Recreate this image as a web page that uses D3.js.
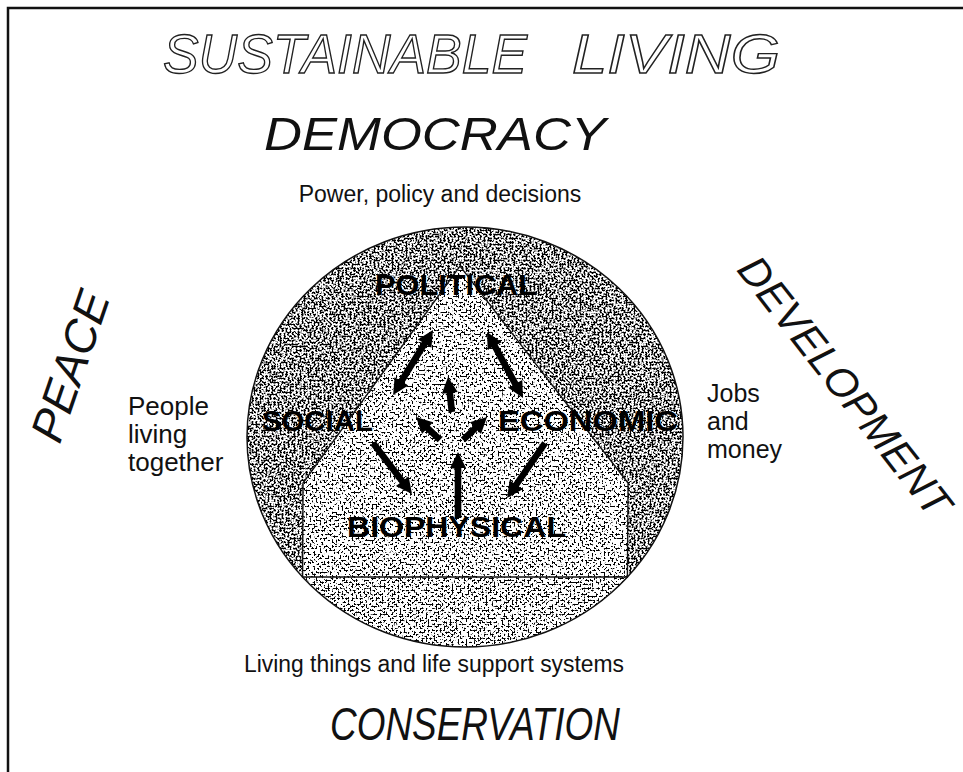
<!DOCTYPE html>
<html>
<head>
<meta charset="utf-8">
<script src="https://cdn.jsdelivr.net/npm/d3@7"></script>
<style>
  body { margin: 0; background: #fff; }
  text { font-family: "Liberation Sans", Arial, sans-serif; fill: #111; }
</style>
</head>
<body>
<script>
// labels of the diagram
var titleWords = ["SUSTAINABLE", "LIVING"];
var goals = ["DEMOCRACY", "PEACE", "DEVELOPMENT", "CONSERVATION"];
var goalNotes = ["Power, policy and decisions", "People|living|together", "Jobs|and|money",
                 "Living things and life support systems"];
var spheres = ["POLITICAL", "SOCIAL", "ECONOMIC", "BIOPHYSICAL"];
// links between spheres: source, target, heads (1 = at target, 2 = both ends)
var linkFrom = ["POLITICAL", "POLITICAL", "centre", "centre", "centre", "SOCIAL", "BIOPHYSICAL", "ECONOMIC"];
var linkTo   = ["SOCIAL", "ECONOMIC", "POLITICAL", "SOCIAL", "ECONOMIC", "BIOPHYSICAL", "centre", "BIOPHYSICAL"];
var linkHeads = [2, 2, 1, 1, 1, 1, 1, 1];

var W = 963, H = 772;

//
// layout, in units of the circle (-1..1 each way)
//
var cx = 465, cy = 437, rx = 218, ry = 210;
var x = d3.scaleLinear().domain([-1, 1]).range([cx - rx, cx + rx]);
var y = d3.scaleLinear().domain([-1, 1]).range([cy - ry, cy + ry]);

var spherePos = {
  POLITICAL:   [-0.041, -0.676],
  SOCIAL:      [-0.677, -0.029],
  ECONOMIC:    [ 0.564, -0.029],
  BIOPHYSICAL: [-0.039,  0.476]
};
var sphereWidth = { POLITICAL: 162, SOCIAL: 111, ECONOMIC: 180, BIOPHYSICAL: 219 };
// arrow tail / tip per link
var linkGeom = [
  [[-0.147, -0.510], [-0.330, -0.200]],
  [[ 0.101, -0.500], [ 0.266, -0.186]],
  [[-0.060, -0.119], [-0.078, -0.286]],
  [[-0.115,  0.014], [-0.225, -0.095]],
  [[-0.009,  0.014], [ 0.101, -0.095]],
  [[-0.422,  0.029], [-0.243,  0.271]],
  [[-0.032,  0.386], [-0.032,  0.071]],
  [[ 0.367,  0.029], [ 0.193,  0.290]]
];
var house = [[-0.745, 0.667], [-0.743, 0.219], [-0.023, -0.814], [0.748, 0.219], [0.745, 0.667]];
var houseBase = 0.667;

var svg = d3.select("body").append("svg")
  .attr("width", W)
  .attr("height", H);

svg.append("rect").attr("width", W).attr("height", H).attr("fill", "#fff");

var defs = svg.append("defs");

// speckle filters, one per shade
var makeSpeckle = function(id, t, seed) {
  var f = defs.append("filter")
    .attr("id", id)
    .attr("x", 0).attr("y", 0).attr("width", 1).attr("height", 1)
    .attr("color-interpolation-filters", "sRGB");
  f.append("feTurbulence")
    .attr("type", "fractalNoise")
    .attr("baseFrequency", 0.5)
    .attr("numOctaves", 2)
    .attr("seed", seed);
  var k = 14;
  f.append("feColorMatrix")
    .attr("type", "matrix")
    .attr("values", "0 0 0 0 0  0 0 0 0 0  0 0 0 0 0  " + (-k) + " 0 0 0 " + (k * t));
};
makeSpeckle("speckDark", 0.525, 3);
makeSpeckle("speckLight", 0.47, 7);
makeSpeckle("speckMid", 0.48, 11);

defs.append("clipPath").attr("id", "clipCircle")
  .append("ellipse")
  .attr("cx", x(0)).attr("cy", y(0)).attr("rx", x(1) - x(0)).attr("ry", y(1) - y(0));

var housePath = d3.line().x(function(d) { return x(d[0]); }).y(function(d) { return y(d[1]); });
defs.append("clipPath").attr("id", "clipHouse")
  .append("path")
  .attr("d", housePath(house) + "Z");

//
// shaded circle
//
var shade = svg.append("g").attr("clip-path", "url(#clipCircle)");
shade.append("rect")
  .attr("x", x(-1)).attr("y", y(-1))
  .attr("width", x(1) - x(-1)).attr("height", y(1) - y(-1))
  .attr("fill", "#9a9a9a")
  .attr("filter", "url(#speckDark)");
shade.append("rect")
  .attr("x", x(-1)).attr("y", y(houseBase))
  .attr("width", x(1) - x(-1)).attr("height", y(1) - y(houseBase))
  .attr("fill", "#fff");
shade.append("rect")
  .attr("x", x(-1)).attr("y", y(houseBase))
  .attr("width", x(1) - x(-1)).attr("height", y(1) - y(houseBase))
  .attr("fill", "#bbb")
  .attr("filter", "url(#speckMid)");

var inner = svg.append("g").attr("clip-path", "url(#clipHouse)");
inner.append("rect")
  .attr("x", x(-1)).attr("y", y(-1))
  .attr("width", x(1) - x(-1)).attr("height", y(1) - y(-1))
  .attr("fill", "#fff");
inner.append("rect")
  .attr("x", x(-1)).attr("y", y(-1))
  .attr("width", x(1) - x(-1)).attr("height", y(1) - y(-1))
  .attr("fill", "#bbb")
  .attr("filter", "url(#speckLight)");

// outlines
svg.append("ellipse")
  .attr("cx", x(0)).attr("cy", y(0)).attr("rx", x(1) - x(0)).attr("ry", y(1) - y(0))
  .attr("fill", "none").attr("stroke", "#111").attr("stroke-width", 1.5);
svg.append("path")
  .attr("d", housePath(house) + "Z")
  .attr("fill", "none").attr("stroke", "#111").attr("stroke-width", 1.4);

//
// arrows
//
var arrowShape = function(p0, p1, heads) {
  var dx = p1[0] - p0[0], dy = p1[1] - p0[1];
  var len = Math.sqrt(dx * dx + dy * dy);
  var ux = dx / len, uy = dy / len, nx = -uy, ny = ux;
  var sw = 3.3, hw = 8, hl = 16;
  var pts = [];
  var pt = function(a, b) { pts.push([p0[0] + ux * a + nx * b, p0[1] + uy * a + ny * b]); };
  if (heads === 2) {
    pt(0, 0); pt(hl, hw); pt(hl, sw);
  } else {
    pt(0, sw);
  }
  pt(len - hl, sw); pt(len - hl, hw); pt(len, 0); pt(len - hl, -hw); pt(len - hl, -sw);
  if (heads === 2) {
    pt(hl, -sw); pt(hl, -hw);
  } else {
    pt(0, -sw);
  }
  return "M" + pts.map(function(p) { return p[0].toFixed(1) + "," + p[1].toFixed(1); }).join("L") + "Z";
};

svg.append("g").selectAll("path")
  .data(linkFrom.map(function(f, i) { return { from: f, to: linkTo[i], heads: linkHeads[i], g: linkGeom[i] }; }))
  .join("path")
  .attr("class", "arrow")
  .attr("d", function(d) {
    return arrowShape([x(d.g[0][0]), y(d.g[0][1])], [x(d.g[1][0]), y(d.g[1][1])], d.heads);
  })
  .attr("fill", "#000");

// sphere labels
svg.append("g").selectAll("text")
  .data(spheres)
  .join("text")
  .text(function(d) { return d; })
  .attr("x", function(d) { return x(spherePos[d][0]); })
  .attr("y", function(d) { return y(spherePos[d][1]); })
  .attr("text-anchor", "middle")
  .attr("font-weight", "bold")
  .attr("font-size", 29)
  .attr("textLength", function(d) { return sphereWidth[d]; })
  .attr("lengthAdjust", "spacingAndGlyphs")
  .style("fill", "#000");

//
// frame and outer texts
//
svg.append("path")
  .attr("d", "M8," + H + "L8,8L" + W + ",8")
  .attr("fill", "none").attr("stroke", "#111").attr("stroke-width", 2.5);

var addText = function(str, px, py, size, opts) {
  opts = opts || {};
  var t = svg.append("text")
    .text(str)
    .attr("x", px).attr("y", py)
    .attr("font-size", size)
    .attr("text-anchor", opts.anchor || "middle");
  if (opts.italic) t.attr("font-style", "italic");
  if (opts.family) t.attr("font-family", opts.family);
  if (opts.len) t.attr("textLength", opts.len).attr("lengthAdjust", "spacingAndGlyphs");
  if (opts.rotate) t.attr("transform", "rotate(" + opts.rotate + "," + px + "," + py + ")");
  return t;
};

// outlined title, one word at a time
var titleSpans = [[163, 364], [572, 208]];
titleSpans.forEach(function(span, i) {
  addText(titleWords[i], span[0], 73, 56, { italic: true, anchor: "start", len: span[1] })
    .style("fill", "#fff")
    .attr("stroke", "#222")
    .attr("stroke-width", 1.4);
});

addText(goals[0], 435, 150, 46, { italic: true, len: 342 });
addText(goalNotes[0], 440, 202, 23);

addText(goals[1], 70, 366, 46, { italic: true, rotate: -71 }).attr("dy", "0.35em");
goalNotes[1].split("|").forEach(function(s, i) {
  addText(s, 128, 415 + i * 28, 26, { anchor: "start" });
});

addText(goals[2], 845, 386, 42, { italic: true, rotate: 52 }).attr("dy", "0.35em");
goalNotes[2].split("|").forEach(function(s, i) {
  addText(s, 707, 402 + i * 28, 25, { anchor: "start" });
});

addText(goalNotes[3], 434, 672, 23, { len: 380 });
addText(goals[3], 475, 740, 46, { italic: true, len: 290 });
</script>
</body>
</html>
